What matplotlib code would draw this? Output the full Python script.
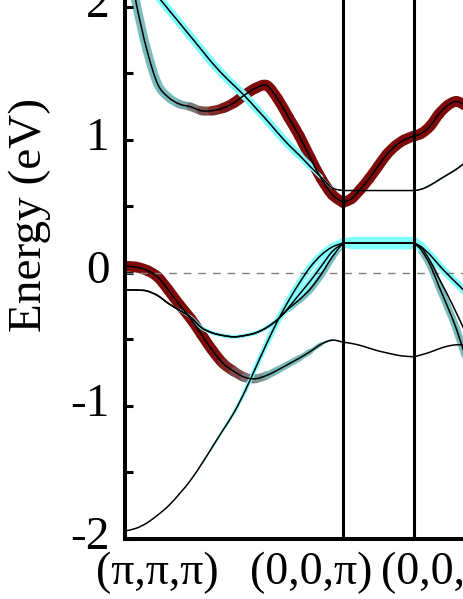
import numpy as np
import matplotlib
matplotlib.use("Agg")
import matplotlib.pyplot as plt
from matplotlib.path import Path
from matplotlib.patches import PathPatch
from matplotlib.collections import PathCollection
from matplotlib.colors import to_rgb
from matplotlib.transforms import ScaledTranslation

plt.rcParams["font.family"] = ["Liberation Serif", "DejaVu Serif"]

# k-path: (pi,pi,pi) -> (0,0,pi) -> (0,0,0) -> ...
kpts = [0.00, 0.05, 0.10, 0.15, 0.20, 0.25, 0.30, 0.35, 0.40, 0.45, 0.50,
        0.55, 0.60, 0.65, 0.70, 0.75, 0.80, 0.85, 0.90, 0.95, 1.00,
        1.04, 1.08, 1.12, 1.16, 1.20, 1.24, 1.28, 1.326,
        1.36, 1.40, 1.44, 1.48, 1.52, 1.56]
hs_k = [0.0, 1.0, 1.326]
hs_labels = ["(\u03c0,\u03c0,\u03c0)", "(0,0,\u03c0)", "(0,0,0)"]
label_x = [0.149, 0.856, 1.456]

# band energies (eV)
E_A = [2.50, 2.04, 1.68, 1.42, 1.32, 1.27, 1.25, 1.22, 1.22, 1.24, 1.28,
       1.34, 1.39, 1.41, 1.31, 1.17, 1.03, 0.865, 0.71, 0.59, 0.53,
       0.56, 0.63, 0.71, 0.80, 0.89, 0.955, 1.00, 1.03,
       1.05, 1.105, 1.195, 1.26, 1.29, 1.26]
E_B = [2.38, 2.28, 2.18, 2.08, 1.98, 1.88, 1.78, 1.68, 1.58, 1.49, 1.41,
       1.33, 1.24, 1.15, 1.055, 0.965, 0.885, 0.80, 0.72, 0.64, 0.62,
       0.62, 0.62, 0.62, 0.62, 0.62, 0.62, 0.62, 0.62,
       0.63, 0.66, 0.70, 0.74, 0.78, 0.83]
E_C = [0.05, 0.045, 0.02, -0.03, -0.13, -0.24, -0.34, -0.46, -0.58, -0.68, -0.74,
       -0.785, -0.795, -0.77, -0.73, -0.685, -0.64, -0.59, -0.535, -0.505, -0.52,
       -0.53, -0.545, -0.565, -0.585, -0.60, -0.615, -0.625, -0.63,
       -0.615, -0.595, -0.57, -0.55, -0.54, -0.54]
E_D = [-0.128, -0.128, -0.135, -0.17, -0.23, -0.28, -0.33, -0.41, -0.45, -0.47, -0.48,
       -0.47, -0.45, -0.41, -0.35, -0.26, -0.16, -0.06, 0.05, 0.16, 0.225,
       0.225, 0.225, 0.225, 0.225, 0.225, 0.225, 0.225, 0.225,
       0.19, 0.09, -0.04, -0.165, -0.30, -0.44]
E_E = [-1.94, -1.92, -1.88, -1.82, -1.75, -1.66, -1.56, -1.44, -1.31, -1.18, -1.05,
       -0.89, -0.71, -0.53, -0.36, -0.21, -0.075, 0.045, 0.135, 0.195, 0.225,
       0.225, 0.225, 0.225, 0.225, 0.225, 0.225, 0.225, 0.225,
       0.195, 0.135, 0.06, -0.01, -0.075, -0.14]
E_F = [-0.128, -0.128, -0.135, -0.17, -0.23, -0.28, -0.33, -0.41, -0.45, -0.47, -0.48,
       -0.47, -0.45, -0.41, -0.35, -0.27, -0.20, -0.12, -0.01, 0.12, 0.225,
       0.225, 0.225, 0.225, 0.225, 0.225, 0.225, 0.225, 0.225,
       0.17, 0.06, -0.10, -0.255, -0.42, -0.62]

# orbital weights (fat bands)
wA_teal = [0.7, 0.7, 0.7, 0.7, 0.7, 0.68, 0.5, 0.35, 0.2, 0.1, 0.03,
           0, 0, 0, 0, 0, 0, 0, 0, 0, 0,
           0, 0, 0, 0, 0, 0, 0, 0,
           0, 0, 0, 0, 0, 0]
wA_red = [0, 0, 0, 0, 0, 0, 0.15, 0.35, 0.55, 0.7, 0.82,
          0.85, 0.85, 0.85, 0.85, 0.85, 0.85, 0.85, 0.85, 0.85, 0.85,
          0.85, 0.85, 0.85, 0.85, 0.85, 0.85, 0.85, 0.85,
          0.85, 0.85, 0.85, 0.85, 0.85, 0.85]
wB_cyan = [0.65, 0.65, 0.65, 0.65, 0.65, 0.65, 0.65, 0.65, 0.65, 0.65, 0.65,
           0.65, 0.65, 0.65, 0.65, 0.65, 0.65, 0.45, 0.25, 0.08, 0,
           0, 0, 0, 0, 0, 0, 0, 0,
           0, 0, 0, 0, 0, 0]
wB_teal = [0, 0, 0, 0, 0, 0, 0, 0, 0, 0, 0,
           0, 0, 0, 0, 0, 0, 0, 0, 0, 0,
           0, 0, 0, 0, 0, 0, 0, 0.05,
           0.12, 0.12, 0.12, 0.12, 0.12, 0.12]
wC_red = [0.85, 0.85, 0.85, 0.85, 0.85, 0.85, 0.85, 0.85, 0.85, 0.8, 0.6,
          0.4, 0.2, 0.08, 0, 0, 0, 0, 0, 0, 0,
          0, 0, 0, 0, 0, 0, 0, 0,
          0, 0, 0, 0, 0, 0]
wC_teal = [0, 0, 0, 0, 0, 0, 0, 0, 0, 0.05, 0.2,
           0.35, 0.5, 0.55, 0.55, 0.55, 0.5, 0.4, 0.25, 0.08, 0,
           0, 0, 0, 0, 0, 0, 0, 0,
           0, 0, 0, 0, 0, 0]
wD_cyan = [0, 0, 0, 0, 0.1, 0.2, 0.25, 0.3, 0.3, 0.3, 0.3,
           0.3, 0.3, 0.3, 0.35, 0.55, 0.55, 0.55, 0.55, 0.55, 0.6,
           0, 0, 0, 0, 0, 0, 0, 0,
           0, 0, 0, 0, 0, 0]
wE_cyan = [0, 0, 0, 0, 0, 0, 0.05, 0.1, 0.15, 0.2, 0.25,
           0.3, 0.4, 0.45, 0.5, 0.55, 0.55, 0.55, 0.55, 0.55, 0.7,
           1.0, 1.0, 1.0, 1.0, 1.0, 1.0, 1.0, 1.0,
           0.6, 0.6, 0.6, 0.6, 0.6, 0.6]
wF_teal = [0, 0, 0, 0, 0, 0, 0, 0, 0, 0, 0,
           0, 0, 0, 0.2, 0.45, 0.6, 0.6, 0.6, 0.6, 0.5,
           0, 0, 0, 0, 0, 0, 0, 0,
           0.6, 0.6, 0.6, 0.6, 0.6, 0.6]

CYAN = np.array(to_rgb("#80ffff"))
TEAL = np.array(to_rgb("#78bcbc"))
RED = np.array(to_rgb("#7f0a0a"))
FAT = 9.0  # linewidth (pt) for unit weight


def pieces(k, e):
    """Catmull-Rom -> cubic bezier pieces, split at the high-symmetry points."""
    k = np.asarray(k)
    e = np.asarray(e)
    p = np.column_stack([k, e])
    bounds = [i for i, kk in enumerate(k) if np.any(np.isclose(kk, hs_k))] + [len(k) - 1]
    bounds = sorted(set(bounds))
    out = []
    for s, t in zip(bounds[:-1], bounds[1:]):
        for i in range(s, t):
            a = p[max(i - 1, s)]
            b = p[i]
            c = p[i + 1]
            d = p[min(i + 2, t)]
            out.append((b, b + (c - a) / 6, c - (d - b) / 6, c))
    return out


def draw_band(ax, e, wc, wt, wr):
    pcs = pieces(kpts, e)
    wc, wt, wr = np.asarray(wc), np.asarray(wt), np.asarray(wr)
    paths, cols, lws = [], [], []
    for i, pc in enumerate(pcs):
        c = (wc[i] + wc[i + 1]) / 2
        t = (wt[i] + wt[i + 1]) / 2
        r = (wr[i] + wr[i + 1]) / 2
        tot = c + t + r
        if tot < 0.02:
            continue
        paths.append(Path(np.array(pc), [Path.MOVETO, Path.CURVE4, Path.CURVE4, Path.CURVE4]))
        cols.append((c * CYAN + t * TEAL + r * RED) / tot)
        lws.append(FAT * tot)
    if paths:
        col = PathCollection(paths, facecolors="none", edgecolors=cols, linewidths=lws,
                             capstyle="round", joinstyle="round", transform=ax.transData, zorder=1)
        ax.add_collection(col)
    verts = [pcs[0][0]]
    codes = [Path.MOVETO]
    for pc in pcs:
        verts += [pc[1], pc[2], pc[3]]
        codes += [Path.CURVE4] * 3
    ax.add_patch(PathPatch(Path(np.array(verts), codes), fill=False, ec="black", lw=1.1, zorder=3))


fig = plt.figure(figsize=(4.63, 5.99), dpi=100)
ax = fig.add_axes([125 / 463, 60 / 599, 436 / 463, 648 / 599])
ax.set_xlim(0, 2.0)
ax.set_ylim(-2, 2.872)

zero = [0] * len(kpts)
draw_band(ax, E_C, zero, wC_teal, wC_red)
draw_band(ax, E_A, zero, wA_teal, wA_red)
draw_band(ax, E_F, zero, wF_teal, zero)
draw_band(ax, E_D, wD_cyan, zero, zero)
draw_band(ax, E_E, wE_cyan, zero, zero)
draw_band(ax, E_B, wB_cyan, wB_teal, zero)

ax.axhline(0, color="#808080", lw=1.0, ls=(0, (5.5, 5)), zorder=2)
for k in hs_k[1:]:
    ax.axvline(k, color="black", lw=2.2, zorder=4)

for s in ax.spines.values():
    s.set_linewidth(2.9)
    s.set_zorder(5)

ax.set_yticks([-2, -1, 0, 1, 2])
ax.set_yticklabels(["-2", "-1", "0", "1", "2"])
ax.set_yticks([-1.5, -0.5, 0.5, 1.5, 2.5], minor=True)
ax.tick_params(axis="y", which="both", direction="in", length=5.8, width=2.2,
               labelsize=34, pad=11)
# the y labels sit a little above their ticks in the original
shift = ScaledTranslation(0, 0.06, fig.dpi_scale_trans)
for lab in ax.get_yticklabels():
    lab.set_transform(lab.get_transform() + shift)

ax.set_xticks(label_x)
ax.set_xticklabels(hs_labels)
ax.tick_params(axis="x", length=0, labelsize=33, pad=9)
ax.set_ylabel("Energy (eV)", fontsize=34, labelpad=14)

fig.savefig("out.png", dpi=100)
